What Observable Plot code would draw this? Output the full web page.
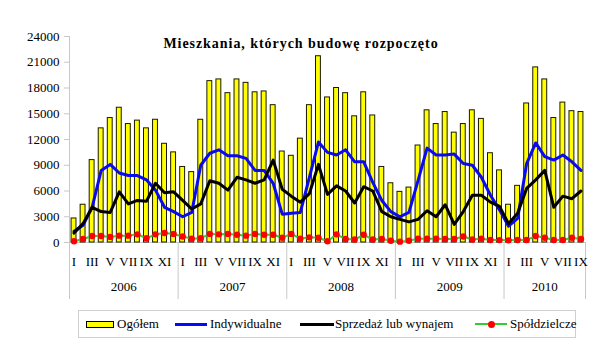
<!DOCTYPE html>
<html>
<head>
<meta charset="utf-8">
<script src="https://cdn.jsdelivr.net/npm/d3@7"></script>
<script src="https://cdn.jsdelivr.net/npm/@observablehq/plot@0.6"></script>
<style>
  html, body { margin: 0; padding: 0; background: #fff; }
  #wrap { position: relative; width: 599px; height: 357px; font-family: "Liberation Serif", "Times New Roman", serif; color: #000; }
  #title { position: absolute; left: 0; width: 602px; top: 36px; text-align: center; font-weight: bold; font-size: 14px; letter-spacing: 0.95px; font-family: "Liberation Serif", serif; }
  #legend { position: absolute; left: 78px; top: 310px; width: 498px; height: 28px; border: 1px solid #d0d0d0; box-sizing: border-box; font-size: 13px; font-family: "Liberation Serif", serif; }
  .item { position: absolute; top: 0; height: 26px; line-height: 26px; white-space: nowrap; font-family: "Liberation Serif", serif; font-size: 13px; }
  .sw { position: absolute; top: 50%; }
</style>
</head>
<body>
<div id="wrap">
  <div id="chart"></div>
  <div id="title">Mieszkania, których budowę rozpoczęto</div>
  <div id="legend">
    <div class="sw" style="left:7px;width:26px;height:5px;margin-top:-3px;background:#ffff00;border:1px solid #000;"></div>
    <div class="item" style="left:38px;">Ogółem</div>
    <div class="sw" style="left:96px;width:32px;height:3px;margin-top:-1px;background:#0a0af0;"></div>
    <div class="item" style="left:131px;">Indywidualne</div>
    <div class="sw" style="left:221px;width:34px;height:3px;margin-top:-1px;background:#000;"></div>
    <div class="item" style="left:256px;">Sprzedaż lub wynajem</div>
    <div class="sw" style="left:396px;width:32px;height:2px;margin-top:-1px;background:#33cc33;"></div>
    <div class="sw" style="left:409px;width:7px;height:7px;margin-top:-3px;border-radius:50%;background:#ff0000;"></div>
    <div class="item" style="left:431px;">Spółdzielcze</div>
  </div>
</div>
<script>
const years = ["2006", "2007", "2008", "2009", "2010"];
const monthsPerYear = [12, 12, 12, 12, 9];
const romanMonths = ["I", "II", "III", "IV", "V", "VI", "VII", "VIII", "IX", "X", "XI", "XII"];
const yTicks = [0, 3000, 6000, 9000, 12000, 15000, 18000, 21000, 24000];

// Ogółem (bars)
const ogolem = [
  2800, 4400, 9600, 13300, 14500, 15700, 13800, 14200, 13300, 14300, 11500, 10500,
  8800, 8200, 14300, 18800, 19000, 17400, 19000, 18600, 17500, 17600, 16000, 10600,
  10100, 12100, 16000, 21700, 16900, 18000, 17400, 14700, 17500, 14800, 8800, 6900,
  5900, 6400, 11300, 15400, 13800, 15200, 12800, 13800, 15400, 14400, 10400, 8400,
  4400, 6600, 16200, 20400, 19000, 14500, 16300, 15300, 15200
];
// Indywidualne (blue)
const indywidualne = [
  1300, 2000, 4100, 8400, 9100, 8100, 7800, 7800, 7300, 6100, 4100, 3600,
  3000, 3500, 9000, 10400, 10800, 10100, 10100, 9800, 8400, 8400, 6900, 3300,
  3400, 3500, 7600, 11700, 10500, 10200, 10800, 9400, 9400, 7000, 4900, 3600,
  3000, 3500, 7200, 11000, 10200, 10200, 10300, 9200, 9000, 7600, 5500, 3800,
  1900, 2800, 9200, 11600, 10000, 9600, 10200, 9400, 8400
];
// Sprzedaż lub wynajem (black)
const sprzedaz = [
  1100, 2200, 4100, 3600, 3500, 5900, 4500, 4900, 4800, 6900, 5800, 5900,
  4900, 3900, 4500, 7200, 6900, 6100, 7600, 7300, 6900, 7300, 9600, 6200,
  5400, 4700, 5700, 9100, 5600, 6600, 6000, 4600, 6500, 6000, 3600, 3000,
  2700, 2400, 2700, 3700, 3000, 4400, 2100, 3600, 5500, 5500, 4700, 4200,
  2200, 3400, 6300, 7300, 8400, 4100, 5400, 5100, 6000
];
// Spółdzielcze (red dots, green line)
const spoldzielcze = [
  150, 400, 750, 750, 650, 800, 800, 950, 500, 950, 1100, 1000,
  700, 450, 500, 1000, 950, 1000, 900, 800, 1000, 900, 900, 550,
  1000, 450, 600, 550, 150, 950, 400, 350, 900, 350, 400, 200,
  100, 200, 450, 450, 450, 400, 400, 700, 350, 450, 300, 280,
  250, 300, 300, 750, 550, 300, 300, 550, 400
];

// Build table
const rows = [];
const monthTickLabels = new Map();
const yearCenters = new Map();
const boundaries = [];
let idx = 0;
years.forEach((yr, k) => {
  const start = idx;
  boundaries.push(start - 0.5);
  for (let m = 0; m < monthsPerYear[k]; m++) {
    rows.push({
      i: idx, year: yr, month: romanMonths[m],
      ogolem: ogolem[idx], indywidualne: indywidualne[idx],
      sprzedaz: sprzedaz[idx], spoldzielcze: spoldzielcze[idx]
    });
    if (m % 2 === 0) monthTickLabels.set(idx, romanMonths[m]);
    idx++;
  }
  yearCenters.set((start + idx - 1) / 2, yr);
});
boundaries.push(idx - 0.5);
const half = 0.27;

const chart = Plot.plot({
  width: 599,
  height: 302,
  marginLeft: 69,
  marginRight: 14,
  marginTop: 36,
  marginBottom: 60,
  style: { fontFamily: "'Liberation Serif', 'Times New Roman', serif", fontSize: "13px", color: "#000", background: "#fff", overflow: "visible" },
  x: { type: "linear", domain: [boundaries[0], boundaries[boundaries.length - 1]], axis: null, label: null },
  y: { domain: [yTicks[0], yTicks[yTicks.length - 1]], axis: null, label: null },
  marks: [
    Plot.ruleX(boundaries.slice(0, 1), { stroke: "#c8c8c8" }),
    Plot.ruleY([0], { stroke: "#c8c8c8" }),
    Plot.axisY({ ticks: yTicks, tickSize: 5, tickPadding: 5, stroke: "#c8c8c8", tickFormat: d => String(d), fontSize: 13, fill: "#000", label: null }),
    Plot.axisX({ ticks: boundaries, tickSize: 57, tickFormat: () => "", stroke: "#c8c8c8", label: null }),
    Plot.axisX({ ticks: [...monthTickLabels.keys()], tickSize: 0, tickPadding: 14, tickFormat: d => monthTickLabels.get(d), fontSize: 13, fill: "#000", label: null }),
    Plot.axisX({ ticks: [...yearCenters.keys()], tickSize: 0, tickPadding: 39, tickFormat: d => yearCenters.get(d), fontSize: 13, fill: "#000", label: null }),
    Plot.rectY(rows, { x1: d => d.i - half, x2: d => d.i + half, y: "ogolem", fill: "#ffff00", stroke: "#1a1a00", strokeWidth: 1 }),
    Plot.line(rows, { x: "i", y: "indywidualne", stroke: "#0a0af0", strokeWidth: 3 }),
    Plot.line(rows, { x: "i", y: "sprzedaz", stroke: "#000", strokeWidth: 3 }),
    Plot.line(rows, { x: "i", y: "spoldzielcze", stroke: "#33cc33", strokeWidth: 2 }),
    Plot.dot(rows, { x: "i", y: "spoldzielcze", r: 3.2, fill: "#ff0000", stroke: "none" })
  ]
});
document.getElementById("chart").appendChild(chart);
</script>
</body>
</html>
